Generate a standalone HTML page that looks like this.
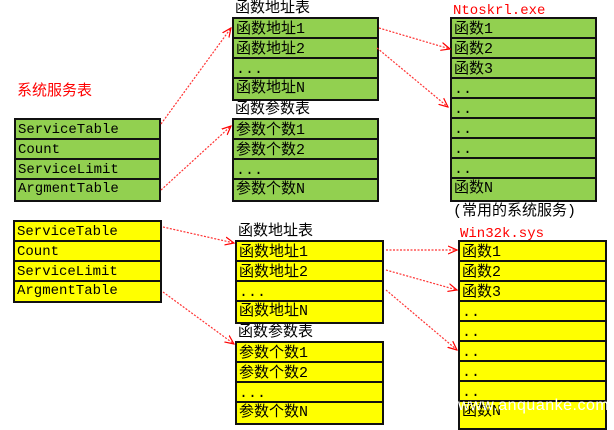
<!DOCTYPE html>
<html><head><meta charset="utf-8"><style>
body{margin:0;width:614px;height:423px;background:#fff;position:relative;overflow:hidden;font-family:"Liberation Mono","Noto Sans CJK SC",monospace;font-size:14px;}
.t{position:absolute;border:2px solid #111;box-sizing:border-box;}
.t div{box-sizing:border-box;border-bottom:2px solid #111;padding-left:2px;line-height:21px;height:20px;overflow:hidden;white-space:nowrap}
.t div:last-child{border-bottom:none;height:18px;line-height:19px}
.c{font-size:15px}
.g{background:#92D050}.y{background:#FFFF00}
.l{position:absolute;font-size:15px;line-height:16px;white-space:nowrap}
.r{color:#f00}
svg{position:absolute;left:0;top:0}
</style></head><body>
<div class="l r" style="left:17px;top:82px;font-family:'Noto Sans CJK SC',sans-serif">系统服务表</div>
<div class="t g" style="left:14px;top:118px;width:147px;height:84px"><div>ServiceTable</div><div>Count</div><div>ServiceLimit</div><div>ArgmentTable</div></div>

<div class="l" style="left:235px;top:1px">函数地址表</div>
<div class="t g c" style="left:232px;top:17px;width:147px;height:84px"><div>函数地址1</div><div>函数地址2</div><div>...</div><div>函数地址N</div></div>
<div class="l" style="left:235px;top:102px">函数参数表</div>
<div class="t g c" style="left:232px;top:118px;width:147px;height:84px"><div>参数个数1</div><div>参数个数2</div><div>...</div><div>参数个数N</div></div>

<div class="l r" style="left:453px;top:3px;font-size:14px">Ntoskrl.exe</div>
<div class="t g c" style="left:450px;top:17px;width:147px;height:185px"><div>函数1</div><div>函数2</div><div>函数3</div><div>..</div><div>..</div><div>..</div><div>..</div><div>..</div><div>函数N</div></div>
<div class="l" style="left:453px;top:204px">(常用的系统服务)</div>

<div class="t y" style="left:13px;top:220px;width:149px;height:83px"><div>ServiceTable</div><div>Count</div><div>ServiceLimit</div><div>ArgmentTable</div></div>

<div class="l" style="left:238px;top:224px">函数地址表</div>
<div class="t y c" style="left:235px;top:240px;width:149px;height:84px"><div>函数地址1</div><div>函数地址2</div><div>...</div><div>函数地址N</div></div>
<div class="l" style="left:238px;top:325px">函数参数表</div>
<div class="t y c" style="left:235px;top:341px;width:149px;height:84px"><div>参数个数1</div><div>参数个数2</div><div>...</div><div>参数个数N</div></div>

<div class="l r" style="left:460px;top:226px;font-size:14px">Win32k.sys</div>
<div class="t y c" style="left:458px;top:240px;width:149px;height:190px"><div>函数1</div><div>函数2</div><div>函数3</div><div>..</div><div>..</div><div>..</div><div>..</div><div>..</div><div>函数N</div></div>
<div class="l" style="left:458px;top:398px;color:#fff;font-family:'Liberation Sans',sans-serif;font-size:16px;letter-spacing:0.5px">www.anquanke.com</div>

<svg width="614" height="423">
<defs><marker id="a" markerWidth="10" markerHeight="10" refX="9" refY="5" orient="auto" markerUnits="userSpaceOnUse"><path d="M0,1 L9,5 L0,9" fill="none" stroke="#f00" stroke-width="1.2"/></marker></defs>
<g stroke="#f33" stroke-width="1.2" stroke-dasharray="2,1.5" fill="none" marker-end="url(#a)">
<line x1="161" y1="124" x2="231" y2="28"/>
<line x1="161" y1="190" x2="231" y2="126"/>
<line x1="379" y1="28" x2="450" y2="49"/>
<line x1="377" y1="48" x2="448" y2="107"/>
<line x1="163" y1="227" x2="234" y2="243"/>
<line x1="163" y1="292" x2="234" y2="344"/>
<line x1="386" y1="250" x2="457" y2="250"/>
<line x1="386" y1="270" x2="457" y2="290"/>
<line x1="386" y1="290" x2="457" y2="350"/>
</g></svg>
</body></html>
